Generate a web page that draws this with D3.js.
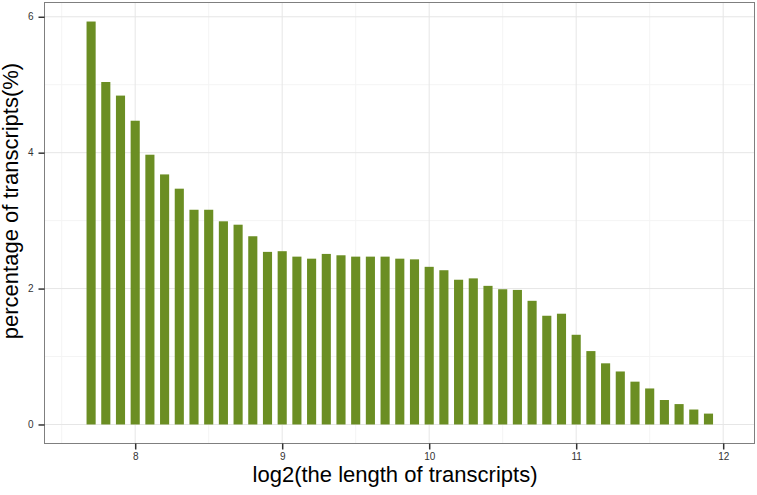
<!DOCTYPE html>
<html>
<head>
<meta charset="utf-8">
<script src="https://cdn.jsdelivr.net/npm/d3@7"></script>
<style>
  body { margin: 0; background: #fff; }
  text { font-family: "Liberation Sans", Arial, sans-serif; }
</style>
</head>
<body>
<div id="chart"></div>
<script>
// bins of log2(length), step 0.1
var binCenters = [7.7, 7.8, 7.9, 8.0, 8.1, 8.2, 8.3, 8.4, 8.5, 8.6, 8.7, 8.8, 8.9, 9.0,
    9.1, 9.2, 9.3, 9.4, 9.5, 9.6, 9.7, 9.8, 9.9, 10.0, 10.1, 10.2, 10.3, 10.4, 10.5,
    10.6, 10.7, 10.8, 10.9, 11.0, 11.1, 11.2, 11.3, 11.4, 11.5, 11.6, 11.7, 11.8, 11.9];
var percents = [5.93, 5.04, 4.84, 4.47, 3.97, 3.68, 3.47, 3.16, 3.16, 2.99, 2.94, 2.77, 2.54, 2.55,
    2.47, 2.44, 2.51, 2.49, 2.47, 2.47, 2.47, 2.44, 2.43, 2.32, 2.27, 2.13, 2.15, 2.04, 1.99,
    1.98, 1.82, 1.60, 1.63, 1.32, 1.08, 0.90, 0.78, 0.63, 0.53, 0.36, 0.30, 0.22, 0.16];
var xTicks = [8, 9, 10, 11, 12];
var xMinor = [7.5, 8.5, 9.5, 10.5, 11.5];
var yTicks = [0, 2, 4, 6];
var yMinor = [1, 3, 5];

var width = 757, height = 495;
var panel = { left: 44.5, top: 2.5, right: 754.5, bottom: 443.5 };
var barWidth = 0.062;

var svg = d3.select("#chart").append("svg")
    .attr("width", width)
    .attr("height", height);

var x = d3.scaleLinear()
    .domain([7.383, 12.213])
    .range([panel.left, panel.right]);

var y = d3.scaleLinear()
    .domain([-0.28, 6.21])
    .range([panel.bottom, panel.top]);

// minor grid
svg.append("g").selectAll("line")
    .data(xMinor).enter().append("line")
    .attr("x1", function(d) { return x(d); })
    .attr("x2", function(d) { return x(d); })
    .attr("y1", panel.top).attr("y2", panel.bottom)
    .attr("stroke", "#f4f4f4").attr("stroke-width", 1);
svg.append("g").selectAll("line")
    .data(yMinor).enter().append("line")
    .attr("y1", function(d) { return y(d); })
    .attr("y2", function(d) { return y(d); })
    .attr("x1", panel.left).attr("x2", panel.right)
    .attr("stroke", "#f4f4f4").attr("stroke-width", 1);

// major grid
svg.append("g").selectAll("line")
    .data(xTicks).enter().append("line")
    .attr("x1", function(d) { return x(d); })
    .attr("x2", function(d) { return x(d); })
    .attr("y1", panel.top).attr("y2", panel.bottom)
    .attr("stroke", "#e6e6e6").attr("stroke-width", 1);
svg.append("g").selectAll("line")
    .data(yTicks).enter().append("line")
    .attr("y1", function(d) { return y(d); })
    .attr("y2", function(d) { return y(d); })
    .attr("x1", panel.left).attr("x2", panel.right)
    .attr("stroke", "#e6e6e6").attr("stroke-width", 1);

// bars
svg.append("g").selectAll("rect")
    .data(binCenters).enter().append("rect")
    .attr("x", function(d) { return x(d - barWidth / 2); })
    .attr("width", function(d) { return x(d + barWidth / 2) - x(d - barWidth / 2); })
    .attr("y", function(d, i) { return y(percents[i]); })
    .attr("height", function(d, i) { return y(0) - y(percents[i]); })
    .attr("fill", "#6b8e23");

// panel border
svg.append("rect")
    .attr("x", panel.left).attr("y", panel.top)
    .attr("width", panel.right - panel.left)
    .attr("height", panel.bottom - panel.top)
    .attr("fill", "none")
    .attr("stroke", "#7f7f7f");

// axes
var xAxis = svg.append("g")
    .attr("transform", "translate(0," + panel.bottom + ")")
    .call(d3.axisBottom(x).tickValues(xTicks).tickSize(6).tickPadding(3).tickFormat(d3.format("d")));
var yAxis = svg.append("g")
    .attr("transform", "translate(" + panel.left + ",0)")
    .call(d3.axisLeft(y).tickValues(yTicks).tickSize(6).tickPadding(5).tickFormat(d3.format("d")));

[xAxis, yAxis].forEach(function(ax) {
    ax.select(".domain").remove();
    ax.selectAll(".tick line").attr("stroke", "#333").attr("stroke-width", 1.5);
    ax.selectAll(".tick text")
        .attr("fill", "#333")
        .style("font-size", "10px")
        .style("font-family", "'Liberation Sans', Arial, sans-serif");
});

// axis titles
svg.append("text")
    .attr("x", 395)
    .attr("y", 482)
    .attr("text-anchor", "middle")
    .style("font-size", "22px")
    .text("log2(the length of transcripts)");

svg.append("text")
    .attr("transform", "translate(17.5,201) rotate(-90)")
    .attr("text-anchor", "middle")
    .style("font-size", "22px")
    .text("percentage of transcripts(%)");
</script>
</body>
</html>
